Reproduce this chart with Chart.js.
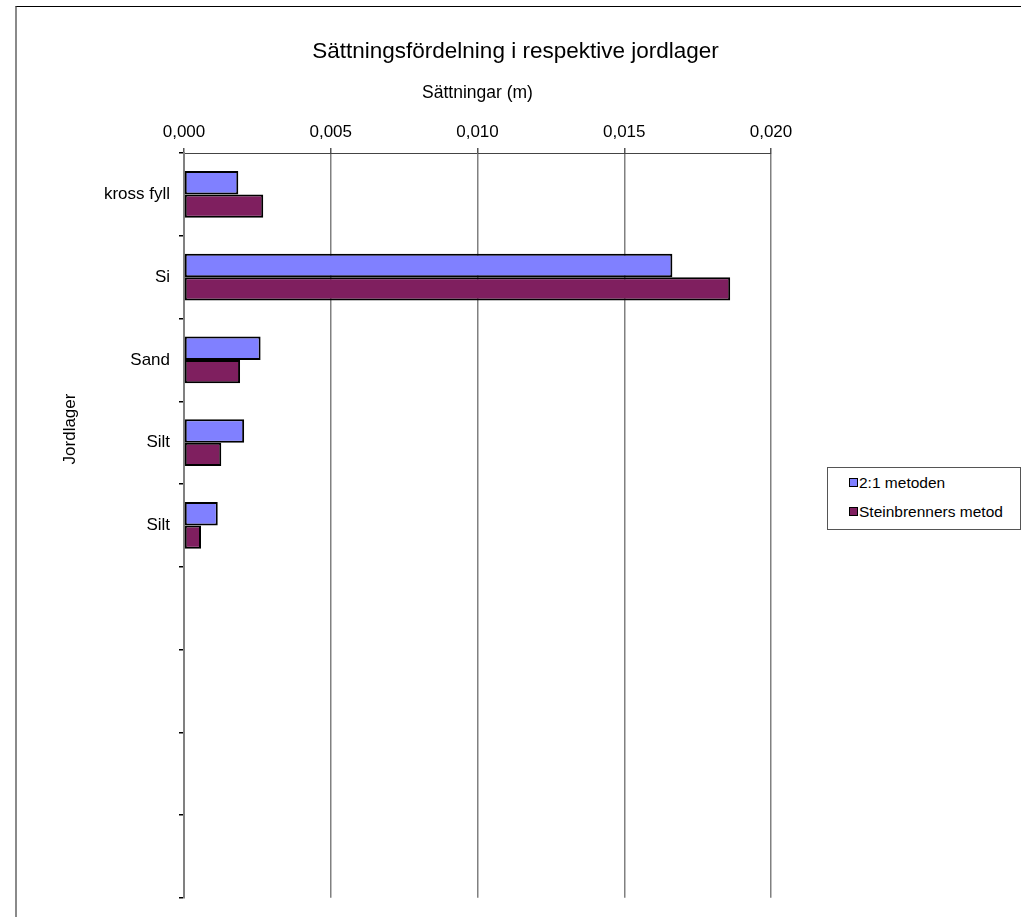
<!DOCTYPE html>
<html lang="sv">
<head>
    <meta charset="UTF-8">
    <title>Sättningsfördelning i respektive jordlager</title>
    <script src="https://cdn.jsdelivr.net/npm/chart.js@4.4.0/dist/chart.umd.min.js"></script>
    <style>
        body{
            margin: 0;
            background: #fff;
            font-family: "Liberation Sans", Arial, sans-serif;
        }
        #frame{
            position: absolute;
            left: 15px;
            top: 6px;
            width: 1100px;
            height: 1000px;
            border-top: 1px solid #000;
            border-left: 2px solid #8a8a8a;
        }
        #wrap{
            position: absolute;
            left: 0;
            top: 0;
            width: 1021px;
            height: 917px;
        }
        #legend{
            position: absolute;
            left: 827px;
            top: 467px;
            width: 192px;
            height: 61px;
            border: 1px solid #555;
            background: #fff;
            font-size: 15.5px;
            color: #000;
        }
        #legend .item{
            position: absolute;
            left: 21px;
            white-space: nowrap;
        }
        #legend .box{
            display: inline-block;
            width: 7px;
            height: 7px;
            border: 1.5px solid #000;
            margin-right: 1px;
            vertical-align: 1px;
        }
    </style>
</head>
<body>
    <div id="frame"></div>
    <div id="wrap"><canvas id="myChart" width="1021" height="917"></canvas></div>
    <div id="legend"></div>
    <script>
        // jordlager (tomma rader nedanför de fem lagren)
        var layers = ['kross fyll', 'Si', 'Sand', 'Silt', 'Silt', '', '', '', ''];
        // sättningar i meter
        var metod21 = [0.00185, 0.01664, 0.00261, 0.00205, 0.00115, null, null, null, null];
        var steinbrenner = [0.00270, 0.01861, 0.00191, 0.00127, 0.00058, null, null, null, null];
        var seriesNames = ['2:1 metoden', 'Steinbrenners metod'];
        var seriesColors = ['#8080ff', '#7f1f5f'];
        var xTicks = [0, 0.005, 0.010, 0.015, 0.020];

        var font = 'Liberation Sans, Arial, sans-serif';
        Chart.defaults.font.family = font;
        Chart.defaults.color = '#000';

        // y-axelns titel ritas för hand, den sitter inte mitt för axeln
        var yTitle = {
            id: 'yTitle',
            afterDraw: function (chart) {
                var c = chart.ctx;
                c.save();
                c.translate(70, 429);
                c.rotate(-Math.PI / 2);
                c.font = '17px ' + font;
                c.fillStyle = '#000';
                c.textAlign = 'center';
                c.textBaseline = 'middle';
                c.fillText('Jordlager', 0, 0);
                c.restore();
            }
        };

        var ctx = document.getElementById('myChart').getContext('2d');

        var myChart = new Chart(ctx, {
            type: 'bar',
            data: {
                labels: layers,
                datasets: [{
                    label: seriesNames[0],
                    data: metod21,
                    backgroundColor: seriesColors[0],
                    borderColor: '#000',
                    borderWidth: 2,
                    borderSkipped: false
                }, {
                    label: seriesNames[1],
                    data: steinbrenner,
                    backgroundColor: seriesColors[1],
                    borderColor: '#000',
                    borderWidth: 2,
                    borderSkipped: false
                }]
            },
            plugins: [yTitle],
            options: {
                indexAxis: 'y',
                responsive: false,
                animation: false,
                categoryPercentage: 0.566,
                barPercentage: 1.0,
                layout: {
                    padding: {left: 16, top: 6, right: 6, bottom: 18}
                },
                plugins: {
                    legend: {display: false},
                    tooltip: {enabled: false},
                    title: {
                        display: true,
                        text: 'Sättningsfördelning i respektive jordlager',
                        font: {size: 22.5, weight: 'normal', family: font},
                        color: '#000',
                        padding: {top: 32.5, bottom: 0}
                    }
                },
                scales: {
                    x: {
                        position: 'top',
                        min: 0,
                        max: 0.02,
                        afterBuildTicks: function (axis) {
                            axis.ticks = xTicks.map(function (v) { return {value: v}; });
                        },
                        afterFit: function (axis) {
                            axis.height = 87.5;
                        },
                        ticks: {
                            font: {size: 17},
                            padding: 5,
                            callback: function (v) {
                                return v.toFixed(3).replace('.', ',');
                            }
                        },
                        grid: {
                            color: '#808080',
                            lineWidth: 1.5,
                            tickLength: 5,
                            tickColor: '#555'
                        },
                        border: {display: true, color: '#444', width: 1},
                        title: {
                            display: true,
                            text: 'Sättningar (m)',
                            font: {size: 17.5},
                            padding: {top: 17, bottom: 0}
                        }
                    },
                    y: {
                        afterFit: function (axis) {
                            axis.width = 168;
                        },
                        ticks: {
                            font: {size: 17},
                            padding: 9
                        },
                        grid: {
                            drawOnChartArea: false,
                            offset: true,
                            tickLength: 5,
                            tickColor: '#000',
                            lineWidth: 1.5
                        },
                        border: {display: true, color: '#808080', width: 2}
                    },
                    // tom axel till höger som ger plats åt förklaringen
                    yRight: {
                        type: 'linear',
                        axis: 'y',
                        position: 'right',
                        ticks: {display: false},
                        grid: {display: false},
                        border: {display: false},
                        afterFit: function (axis) {
                            axis.width = 244;
                        }
                    }
                }
            }
        });

        // förklaring till höger om diagrammet
        var legend = document.getElementById('legend');
        myChart.data.datasets.forEach(function (ds, i) {
            var item = document.createElement('div');
            item.className = 'item';
            item.style.top = (6 + i * 29) + 'px';
            item.innerHTML = '<span class="box" style="background:' + ds.backgroundColor + '"></span>' + ds.label;
            legend.appendChild(item);
        });
    </script>
</body>
</html>
